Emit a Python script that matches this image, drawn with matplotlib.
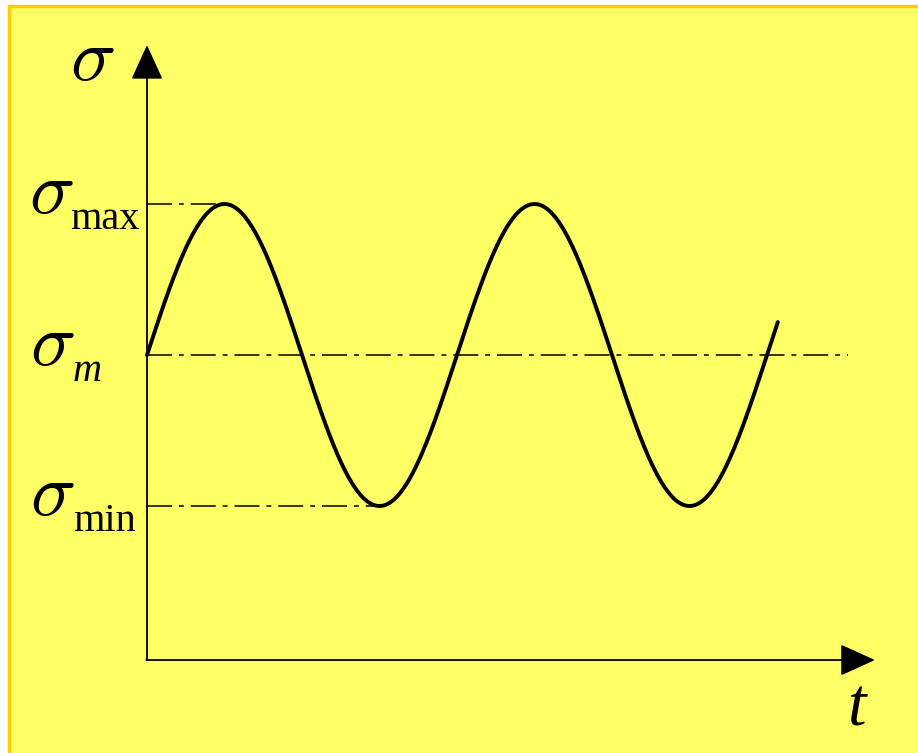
import numpy as np
import matplotlib
matplotlib.use("Agg")
import matplotlib.pyplot as plt
from matplotlib.patches import Rectangle

plt.rcParams['lines.scale_dashes'] = False
plt.rcParams['mathtext.fontset'] = 'cm'

# stress cycle: mean, max, min (normalised), time in cycles
sigma_m = 0.0
sigma_max = 1.0
sigma_min = -1.0
t_end = 2.035          # curve stops a little after two full cycles
t_peak = 0.25
t_trough = 0.75
mean_line_end = 2.26

# axis extents in data units
y_axis_bottom = -2.02
y_axis_top = 2.053
x_axis_end = 2.348

# pixel scale of the drawing: 310 px per cycle, 151 px per unit stress
px_t = 310.0
px_s = 151.0
x0_px, y0_px = 147.0, 355.0
W, H = 918, 753

def tx(px):
    return (px - x0_px) / px_t

def sy(py):
    return (y0_px - py) / px_s

fig = plt.figure(figsize=(W / 100, H / 100), dpi=100)
fig.patch.set_facecolor('white')

ax = fig.add_axes([0, 0, 1, 1])
ax.set_xlim(tx(0), tx(W))
ax.set_ylim(sy(H), sy(0))
ax.axis('off')

# yellow panel with orange border, running off the right and bottom edges
ax.add_patch(Rectangle((8.5 / W, -0.01), 1.1, 1 - 5.5 / H + 0.01,
                       transform=ax.transAxes, facecolor='#FFFF66',
                       edgecolor='#FFCC00', linewidth=2.4, zorder=0, clip_on=False))

amp = (sigma_max - sigma_min) / 2
t = np.linspace(0, t_end, 600)
s = sigma_m + amp * np.sin(2 * np.pi * t)
ax.plot(t, s, color='black', lw=2.8, solid_capstyle='round', zorder=3)

dashdot = (0, (18, 5, 3.5, 5))
ax.plot([0, mean_line_end], [sigma_m, sigma_m], color='black', lw=1.1, linestyle=dashdot, zorder=2)
ax.plot([0, t_peak], [sigma_max, sigma_max], color='black', lw=1.1, linestyle=dashdot, zorder=2)
ax.plot([0, t_trough], [sigma_min, sigma_min], color='black', lw=1.1, linestyle=dashdot, zorder=2)

arrow = dict(arrowstyle='-|>,head_length=2.2,head_width=1.0', mutation_scale=10,
             lw=1.3, color='black', shrinkA=0, shrinkB=0)
ax.annotate('', xy=(0, y_axis_top), xytext=(0, y_axis_bottom), arrowprops=arrow, zorder=4)
ax.annotate('', xy=(x_axis_end, y_axis_bottom), xytext=(-0.002, y_axis_bottom), arrowprops=arrow, zorder=4)

serif = 'Liberation Serif'
big = 54
small = 29
sig = r'$\sigma$'

ax.text(tx(92), sy(80), sig, fontsize=big, ha='center', va='baseline')
ax.text(tx(51), sy(213), sig, fontsize=big, ha='center', va='baseline')
ax.text(tx(70), sy(229), 'max', fontfamily=serif, fontsize=small, ha='left', va='baseline')
ax.text(tx(52), sy(365), sig, fontsize=big, ha='center', va='baseline')
ax.text(tx(73), sy(381), 'm', fontfamily=serif, style='italic', fontsize=small, ha='left', va='baseline')
ax.text(tx(52), sy(515), sig, fontsize=big, ha='center', va='baseline')
ax.text(tx(73), sy(531), 'min', fontfamily=serif, fontsize=small, ha='left', va='baseline')
ax.text(tx(856), sy(726), 't', fontfamily=serif, style='italic', fontsize=48, ha='center', va='baseline')

fig.savefig('out.png', dpi=100, facecolor=fig.get_facecolor())
